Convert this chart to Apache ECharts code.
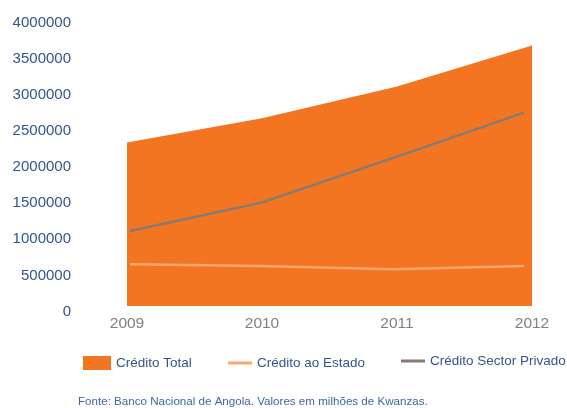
<!DOCTYPE html>
<html>
<head>
<meta charset="utf-8">
<script src="https://cdn.jsdelivr.net/npm/echarts@6/dist/echarts.min.js"></script>
<style>
  html, body { margin: 0; padding: 0; background: #ffffff; }
  #chart { width: 567px; height: 408px; }
</style>
</head>
<body>
<div id="chart"></div>
<script>
// Crédito à economia, Angola (milhões de Kwanzas)
const years = ['2009', '2010', '2011', '2012'];
const creditoTotal = [2262000, 2600000, 3037000, 3605000];
const creditoEstado = [578000, 554000, 508000, 554000];
const creditoPrivado = [1039000, 1431000, 2046000, 2677000];
const yTicks = { min: 0, max: 4000000, interval: 500000 };

const ORANGE = '#F47521';
const LIGHT = '#FBA66A';
const GREY = '#857A74';
const NAVY = '#34548A';
const FONT = 'Liberation Sans, Arial, sans-serif';

const chart = echarts.init(document.getElementById('chart'));

const legendBase = {
  orient: 'horizontal',
  itemGap: 0,
  textStyle: { color: NAVY, fontSize: 13.5, fontFamily: FONT },
  selectedMode: false
};

chart.setOption({
  backgroundColor: '#ffffff',
  animation: false,
  grid: [
    { left: 127, right: 35, top: 17, bottom: 102, containLabel: false },
    { left: 130, right: 43, top: 17, bottom: 102, containLabel: false }
  ],
  xAxis: [
    {
      gridIndex: 0,
      type: 'category',
      data: years,
      boundaryGap: false,
      axisLine: { show: false },
      axisTick: { show: false },
      axisLabel: { color: '#808080', fontSize: 15.5, fontFamily: FONT, margin: 10 }
    },
    {
      gridIndex: 1,
      type: 'category',
      data: years,
      boundaryGap: false,
      show: false
    }
  ],
  yAxis: [
    {
      gridIndex: 0,
      type: 'value',
      min: yTicks.min,
      max: yTicks.max,
      interval: yTicks.interval,
      axisLine: { show: false },
      axisTick: { show: false },
      splitLine: { show: false },
      axisLabel: {
        color: NAVY, fontSize: 15, fontFamily: FONT, margin: 56,
        verticalAlign: 'top', lineHeight: 11,
        formatter: function (v) { return String(v); }
      }
    },
    {
      gridIndex: 1,
      type: 'value',
      min: yTicks.min,
      max: yTicks.max,
      interval: yTicks.interval,
      show: false
    }
  ],
  legend: [
    Object.assign({}, legendBase, {
      left: 78, top: 351, itemWidth: 28, itemHeight: 14,
      data: [{ name: 'Crédito Total', icon: 'rect' }]
    }),
    Object.assign({}, legendBase, {
      left: 223, top: 351, itemWidth: 24, itemHeight: 3,
      data: [{ name: 'Crédito ao Estado', icon: 'rect' }]
    }),
    Object.assign({}, legendBase, {
      left: 396, top: 349, itemWidth: 24, itemHeight: 3,
      data: [{ name: 'Crédito Sector Privado', icon: 'rect' }]
    })
  ],
  graphic: [{
    type: 'text',
    left: 78,
    top: 396,
    style: {
      text: 'Fonte: Banco Nacional de Angola. Valores em milhões de Kwanzas.',
      fill: '#3F67A0',
      font: '11.6px ' + FONT
    }
  }],
  series: [
    {
      name: 'Crédito Total',
      type: 'line',
      xAxisIndex: 0,
      yAxisIndex: 0,
      data: creditoTotal,
      symbol: 'none',
      lineStyle: { width: 0 },
      itemStyle: { color: ORANGE },
      areaStyle: { color: ORANGE, opacity: 1 }
    },
    {
      name: 'Crédito ao Estado',
      type: 'line',
      xAxisIndex: 1,
      yAxisIndex: 1,
      data: creditoEstado,
      symbol: 'none',
      lineStyle: { color: LIGHT, width: 2.5 },
      itemStyle: { color: LIGHT }
    },
    {
      name: 'Crédito Sector Privado',
      type: 'line',
      xAxisIndex: 1,
      yAxisIndex: 1,
      data: creditoPrivado,
      symbol: 'none',
      lineStyle: { color: GREY, width: 2.5 },
      itemStyle: { color: GREY }
    }
  ]
});
</script>
</body>
</html>
